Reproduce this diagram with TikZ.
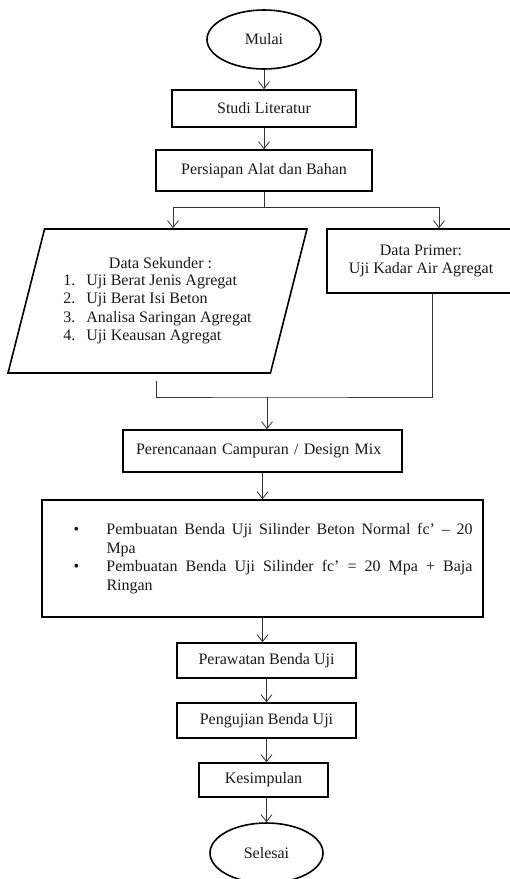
\documentclass[tikz,border=0pt]{standalone}
\usepackage{fontspec}
\setmainfont{Liberation Serif}
\usepackage{tikz}
\usetikzlibrary{positioning,shapes.geometric,arrows.meta}

\begin{document}
\begin{tikzpicture}[x=1pt,y=-1pt,
	every node/.style={font=\fontsize{16}{18.5}\selectfont, text=black!90, inner sep=0pt},
	terminal/.style={ellipse, draw, line width=1.6pt, minimum width=114pt, minimum height=59pt},
	process/.style={rectangle, draw, line width=1.6pt},
	datain/.style={trapezium, trapezium left angle=68, trapezium right angle=112, trapezium stretches body, draw, line width=1.6pt, minimum width=299pt, minimum height=144pt},
	line/.style={draw=black!80, line width=0.8pt},
	arrow/.style={line, -{Straight Barb[length=7pt,width=11pt]}}]
	\useasboundingbox (0,0) rectangle (510,879);
	\node[terminal] (mulai) at (264,39.5) {Mulai};
	\node[process, minimum width=184pt, minimum height=37pt] (studi) at (264,108.5) {Studi Literatur};
	\node[process, minimum width=216pt, minimum height=41pt] (persiapan) at (264,170.5) {Persiapan Alat dan Bahan};
	\node[datain] (sekunder) at (157.5,301) {\begin{tabular}{@{}r@{\hspace{11pt}}l@{}}\multicolumn{2}{c}{\hspace{6pt}Data Sekunder :}\\[-2pt]1.&Uji Berat Jenis Agregat\\2.&Uji Berat Isi Beton\\3.&Analisa Saringan Agregat\\4.&Uji Keausan Agregat\end{tabular}};
	\node[process, minimum width=188pt, minimum height=64pt, align=center] (primer) at (421,261) {Data Primer:\\Uji Kadar Air Agregat};
	\node[process, text width=253pt, align=left, minimum width=279pt, minimum height=42pt] (rencana) at (262.5,451) {Perencanaan Campuran / Design Mix};
	\node[process, text width=420pt, align=justify, minimum width=441pt, minimum height=117pt] (buat) at (262.5,558.5) {\noindent\hangindent=54pt\hangafter=1\hspace*{21pt}\makebox[33pt][l]{•}Pembuatan Benda Uji Silinder Beton Normal fc’ – 20\linebreak Mpa\par
		\noindent\hangindent=54pt\hangafter=1\hspace*{21pt}\makebox[33pt][l]{•}Pembuatan Benda Uji Silinder fc’ = 20 Mpa + Baja\linebreak Ringan\par};
	\node[process, minimum width=179pt, minimum height=35pt] (rawat) at (266.5,660.5) {Perawatan Benda Uji};
	\node[process, minimum width=179pt, minimum height=35pt] (uji) at (266.5,720.5) {Pengujian Benda Uji};
	\node[process, minimum width=129pt, minimum height=34pt] (simpul) at (263.5,780) {Kesimpulan};
	\node[terminal, minimum width=113pt, minimum height=60pt] (selesai) at (266.5,853) {Selesai};
	\coordinate (cabang) at (264,207);
	\coordinate (gabung) at (267,397);
	\draw[arrow] (mulai) -- (studi);
	\draw[arrow] (studi) -- (persiapan);
	\draw[line] (persiapan) -- (cabang);
	\draw[arrow] (cabang) -| ([xshift=-3pt]sekunder.top side);
	\draw[arrow] (cabang) -| ([xshift=18pt]primer.north);
	\draw[line] ([xshift=17.5pt,yshift=-7pt]sekunder.bottom side) |- (gabung) -| ([xshift=11pt]primer.south);
	\draw[arrow] (gabung) -- (gabung |- rencana.north);
	\draw[arrow] (rencana) -- (buat);
	\draw[arrow] (buat.south) -- (buat.south |- rawat.north);
	\draw[arrow] (rawat) -- (uji);
	\draw[arrow] (uji.south) -- (uji.south |- simpul.north);
	\draw[arrow] (selesai.north |- simpul.south) -- (selesai.north);
\end{tikzpicture}
\end{document}
